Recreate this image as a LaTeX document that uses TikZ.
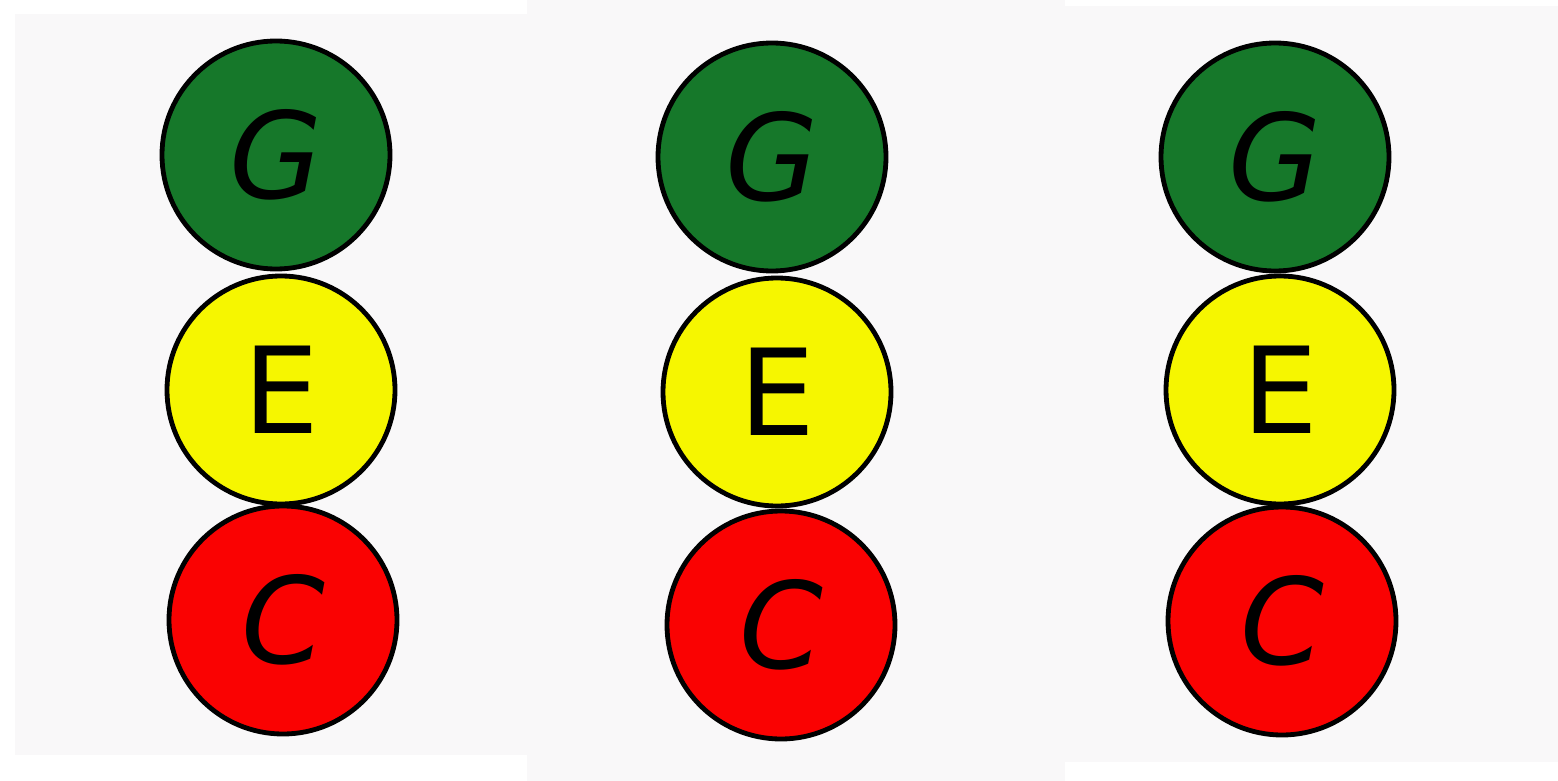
\documentclass[tikz,border=0pt]{standalone}
\usepackage{fontspec}
\setmainfont{DejaVu Sans}
\definecolor{ggreen}{RGB}{22,120,42}
\definecolor{eyellow}{RGB}{246,246,0}
\definecolor{cred}{RGB}{250,2,2}
\definecolor{panel}{RGB}{249,248,249}
\begin{document}
\begin{tikzpicture}[x=.5pt,y=-.5pt,line width=2.4pt,
  every node/.style={circle,draw=black,minimum size=114pt,inner sep=0pt,
    font=\fontsize{60}{60}\selectfont},
  gnote/.style={fill=ggreen,font=\fontsize{60}{60}\selectfont\itshape},
  enote/.style={fill=eyellow},
  cnote/.style={fill=cred,font=\fontsize{60}{60}\selectfont\itshape}]
  \path[use as bounding box,fill=white] (0,0) rectangle (1558,781);
  % three pasted panels
  \fill[panel] (15,14) rectangle (527,755);
  \fill[panel] (527,0) rectangle (1065,781);
  \fill[panel] (1065,6) rectangle (1558,762);
  % left column
  \node[gnote] (G1) at (276,155) {G};
  \node[enote] (E1) at (281,390) {E};
  \node[cnote] (C1) at (283,620) {C};
  % middle column
  \node[gnote] (G2) at (772,157) {G};
  \node[enote] (E2) at (777,392) {E};
  \node[cnote] (C2) at (781,625) {C};
  % right column
  \node[gnote] (G3) at (1275,157) {G};
  \node[enote] (E3) at (1280,390) {E};
  \node[cnote] (C3) at (1282,621) {C};
\end{tikzpicture}
\end{document}
